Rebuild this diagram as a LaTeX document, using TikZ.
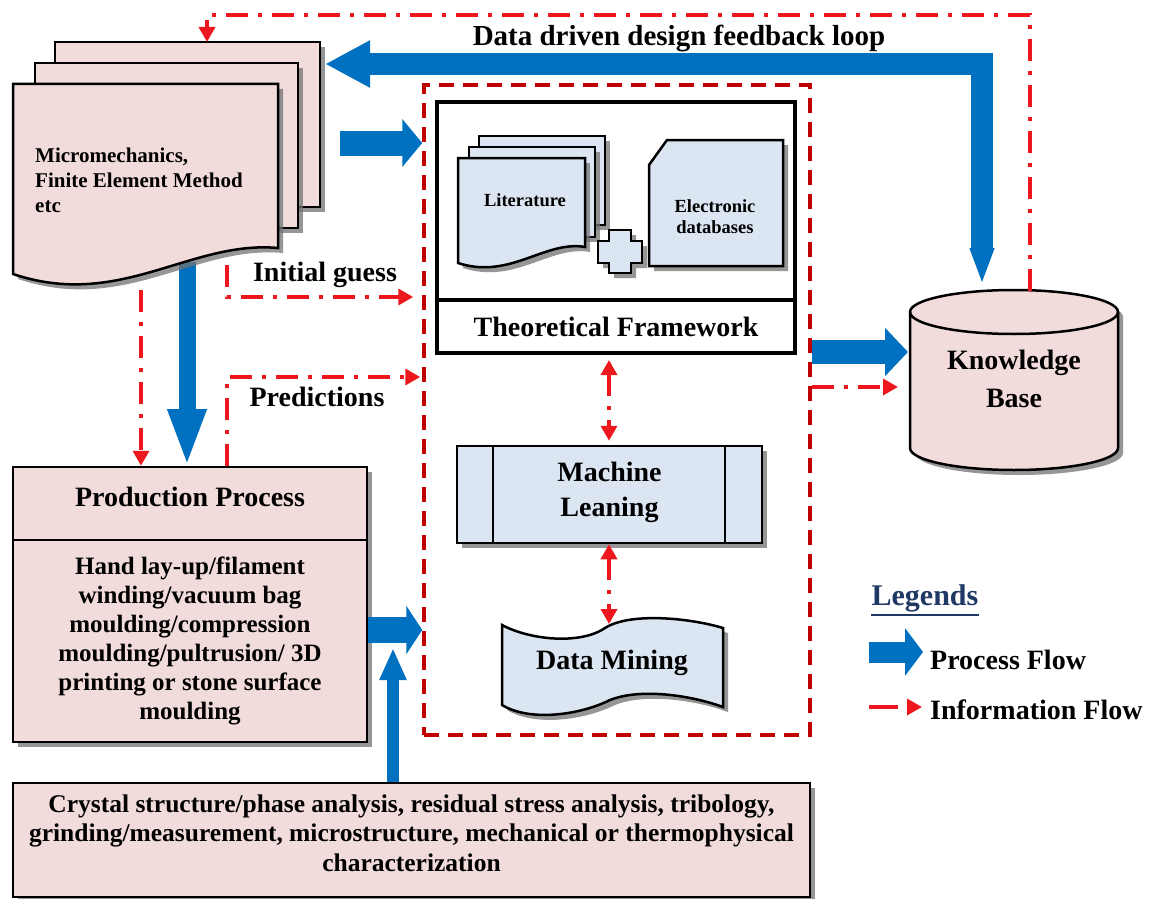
\documentclass[tikz,border=0pt]{standalone}
\usepackage{fontspec}
\setmainfont{Liberation Serif}
\usetikzlibrary{arrows.meta,shadows}

\definecolor{pinkfill}{RGB}{242,220,219}
\definecolor{bluefill}{RGB}{220,230,242}
\definecolor{flowblue}{RGB}{0,112,192}
\definecolor{infored}{RGB}{236,24,30}
\definecolor{boxred}{RGB}{192,0,0}
\definecolor{legendnavy}{RGB}{31,56,100}

\tikzset{
  dropsh/.style={drop shadow={shadow xshift=5pt,shadow yshift=-5pt,fill=black!55,opacity=.75}},
  pinkbox/.style={draw,line width=2.5pt,fill=pinkfill,dropsh},
  bluebox/.style={draw,line width=2.5pt,fill=bluefill,dropsh},
  lbl/.style={font=\bfseries\fontsize{28}{35}\selectfont,inner sep=0pt,align=center},
  info/.style={draw=infored,line width=3.5pt,dash pattern=on 22pt off 10pt on 4pt off 10pt,
    -{Triangle[width=16pt,length=15pt]}},
  infotwo/.style={info,{Triangle[width=16pt,length=15pt]}-{Triangle[width=16pt,length=15pt]}},
  procflow/.style n args={3}{draw=flowblue,line width=#1,-{Triangle[width=#2,length=#3]}},
  dashbox/.style={draw=boxred,line width=3.5pt,dash pattern=on 15pt off 9pt,inner sep=0pt},
}

\begin{document}
\begin{tikzpicture}[x=1pt,y=-1pt]
\useasboundingbox (0,0) rectangle (1157,899);

% free ends of the connectors
\coordinate (docsout) at (187,262);
\coordinate (docsright) at (340,143);
\coordinate (stacktop) at (207,42);
\coordinate (guessstart) at (227,265);
\coordinate (leftdash) at (141,290);
\coordinate (fbstart) at (982,285);
\coordinate (fbend) at (325,64);
\coordinate (kbfb) at (1030,291);
\coordinate (kbblue) at (908,352);
\coordinate (kbred) at (898,387);
\coordinate (joinpt) at (393,648);
\coordinate (dmtop) at (609,624);

% dashed frame round the core
\node[dashbox,minimum width=386pt,minimum height=650pt] (core) at (617,410) {};

% process flow (blue)
\draw[draw=flowblue,line width=22pt,
  {Triangle[width=22pt,length=37pt]}-{Triangle[width=44pt,length=45pt]}] (fbstart) |- (fbend);
\draw[procflow={25pt}{47pt}{20pt}] (docsright) -- (core.west |- docsright);
\draw[procflow={17pt}{35pt}{58pt}] (docsout) -- (docsout |- 0,467);

% stack of documents
\filldraw[pinkbox] (55,42) rectangle (320,207);
\filldraw[pinkbox] (35,63) rectangle (298,228);
\filldraw[pinkbox] (13,84) -- (278,84) -- (278,248) .. controls (190,240) and (120,310) .. (13,274) -- cycle;
\node[font=\bfseries\fontsize{21}{25}\selectfont,align=left,anchor=west,inner sep=0pt] (docs) at (35,180)
  {Micromechanics,\\Finite Element Method\\etc};

% production process
\node[pinkbox,minimum width=354pt,minimum height=275pt] (prod) at (190,604.5) {};
\draw[line width=2.5pt] (prod.west |- 0,540) -- (prod.east |- 0,540);
\node[lbl] (prodtitle) at (190,497) {Production Process};
\node[lbl,font=\bfseries\fontsize{25}{29}\selectfont] (prodtext) at (190,641)
  {Hand lay-up/filament\\winding/vacuum bag\\moulding/compression\\moulding/pultrusion/ 3D\\printing or stone surface\\moulding};

% characterization
\node[pinkbox,minimum width=797pt,minimum height=114pt] (charac) at (411.5,840) {};
\node[lbl,font=\bfseries\fontsize{25.5}{29.5}\selectfont] (charactext) at (411.5,833)
  {Crystal structure/phase analysis, residual stress analysis, tribology,\\grinding/measurement, microstructure, mechanical or thermophysical\\characterization};

\draw[procflow={26pt}{48pt}{16pt}] (prod.east |- 0,630) -- (core.west |- 0,630);
\draw[procflow={12pt}{25pt}{32pt}] (charac.north -| joinpt) -- (joinpt);

% theoretical framework
\node[draw,fill=white,line width=4pt,minimum width=358pt,minimum height=251pt,inner sep=0pt] (frame) at (616,227.5) {};
\draw[line width=4pt] (frame.west |- 0,300) -- (frame.east |- 0,300);
\node[lbl] (frametitle) at (616,327) {Theoretical Framework};
\filldraw[bluebox] (479,136) rectangle (605,225);
\filldraw[bluebox] (469,147) rectangle (595,237);
\filldraw[bluebox] (458,158) -- (585,158) -- (585,247) .. controls (545,240) and (510,280) .. (458,263) -- cycle;
\node[font=\bfseries\fontsize{18.5}{21}\selectfont,inner sep=0pt] (lit) at (525,200) {Literature};
\filldraw[bluebox] (609,230) -- (631,230) -- (631,241) -- (642,241) -- (642,263) -- (631,263)
  -- (631,273) -- (609,273) -- (609,263) -- (598,263) -- (598,241) -- (609,241) -- cycle;
\filldraw[bluebox] (649,165) -- (667,140) -- (783,140) -- (783,266) -- (649,266) -- cycle;
\node[font=\bfseries\fontsize{18.5}{21}\selectfont,align=center,inner sep=0pt] (edb) at (715,217)
  {Electronic\\databases};

% machine learning, data mining
\node[bluebox,minimum width=305pt,minimum height=97pt] (ml) at (609.5,494.5) {};
\draw[line width=2.5pt] (ml.north -| 493,0) -- (ml.south -| 493,0);
\draw[line width=2.5pt] (ml.north -| 725,0) -- (ml.south -| 725,0);
\node[lbl] (mltext) at (609.5,492) {Machine\\Leaning};
\filldraw[bluebox] (502,625) .. controls (530,640) and (580,645) .. (605,628)
  .. controls (630,612) and (690,618) .. (723,628) -- (723,707)
  .. controls (690,695) and (640,688) .. (610,700)
  .. controls (580,715) and (530,722) .. (502,705) -- cycle;
\node[lbl] (dm) at (612,663) {Data Mining};

% knowledge base
\filldraw[pinkbox] (910,312) -- (910,448) arc[start angle=180,end angle=360,x radius=104pt,y radius=22pt]
  -- (1118,312) arc[start angle=0,end angle=180,x radius=104pt,y radius=22pt] -- cycle;
\draw[line width=2.5pt] (910,312) arc[start angle=180,end angle=360,x radius=104pt,y radius=22pt];
\node[lbl,font=\bfseries\fontsize{28}{38}\selectfont] (kb) at (1014,379) {Knowledge\\Base};
\draw[procflow={24pt}{47pt}{23pt}] (core.east |- kbblue) -- (kbblue);

% information flow (red)
\draw[info] (kbfb) -- (kbfb |- 0,15) -| (stacktop);
\draw[info,shorten >=9pt] (guessstart) |- (core.west |- 0,297);
\draw[info,shorten >=2pt] (prod.north -| guessstart) |- (core.west |- 0,377);
\draw[info] (leftdash) -- (leftdash |- prod.north);
\draw[infotwo,shorten <=5pt,shorten >=4pt] (frame.south -| 609,0) -- (ml.north -| 609,0);
\draw[infotwo] (ml.south -| dmtop) -- (dmtop);
\draw[info] (core.east |- kbred) -- (kbred);

% labels
\node[lbl,font=\bfseries\fontsize{29}{35}\selectfont] (looptitle) at (679,38) {Data driven design feedback loop};
\node[lbl] (guess) at (325,275) {Initial guess};
\node[lbl] (pred) at (317,397) {Predictions};

% legend
\node[lbl,font=\bfseries\fontsize{30}{36}\selectfont,text=legendnavy] (legtitle) at (925,598) {Legends};
\draw[legendnavy,line width=2.5pt] ([yshift=-3pt]legtitle.south west) -- ([yshift=-3pt]legtitle.south east);
\coordinate (legpa) at (869,652);
\coordinate (legpb) at (923,652);
\coordinate (legia) at (869,707);
\coordinate (legib) at (922,707);
\draw[procflow={21pt}{47pt}{18pt}] (legpa) -- (legpb);
\draw[info,dash pattern=on 29pt off 30pt] (legia) -- (legib);
\node[lbl,anchor=west] (legproc) at (930,660) {Process Flow};
\node[lbl,anchor=west] (leginfo) at (930,710) {Information Flow};
\end{tikzpicture}
\end{document}
